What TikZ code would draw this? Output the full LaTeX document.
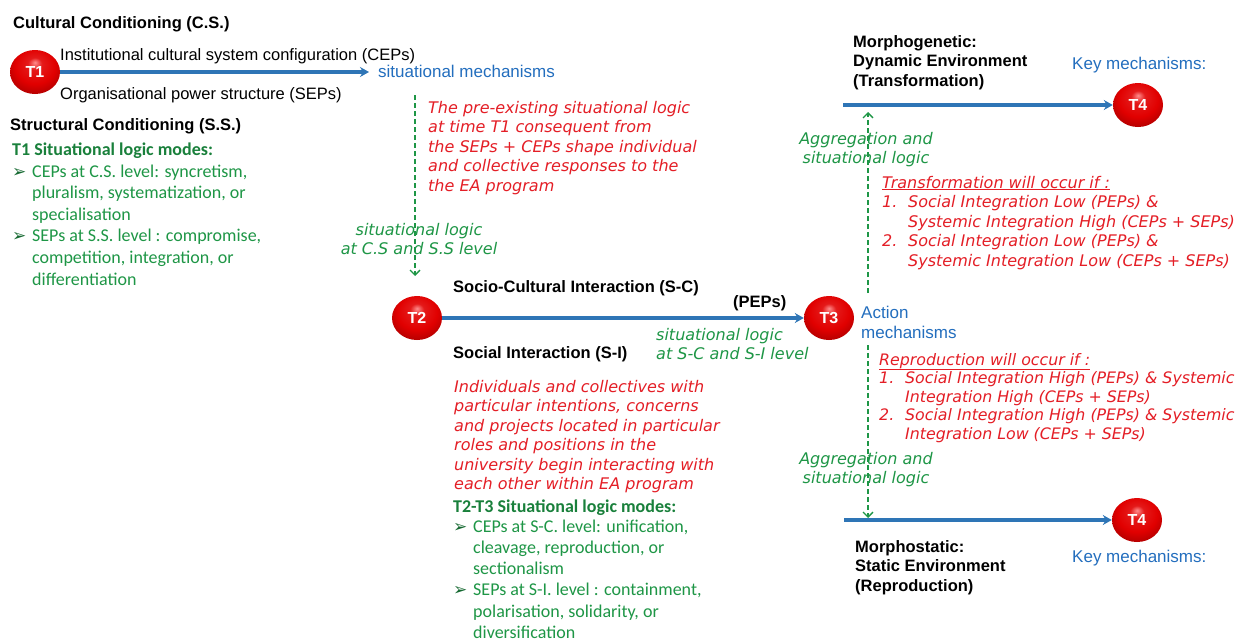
\documentclass[tikz,border=0pt]{standalone}
\usepackage{fontspec}
\setmainfont{Liberation Sans}
\newfontfamily\calib{Carlito}
\newfontfamily\hand{DejaVu Sans}
\newfontfamily\dejavu{DejaVu Sans}
\usetikzlibrary{arrows.meta,shapes.geometric}
\definecolor{arrowblue}{RGB}{46,117,182}
\definecolor{txtblue}{RGB}{35,110,190}
\definecolor{dgreen}{RGB}{30,150,70}
\definecolor{hred}{RGB}{228,30,38}
\definecolor{bred}{RGB}{225,0,0}
\pgfdeclareradialshading{redball}{\pgfpoint{0bp}{11bp}}{%
  color(0bp)=(red!45!white); color(7bp)=(bred!90!white); color(20bp)=(bred);
  color(30bp)=(bred!80!black); color(38bp)=(bred!55!black); color(50bp)=(bred!45!black)}
\newcommand{\mlines}[1]{\begin{tabular}[t]{@{}l@{}}#1\end{tabular}}
\newcommand{\mlinesc}[1]{\begin{tabular}[t]{@{}c@{}}#1\end{tabular}}
\newcommand{\bul}{\makebox[20pt][l]{\color{dgreen!70!black}\dejavu\fontsize{17}{16}\selectfont ➢}}
\newcommand{\ind}{\hspace*{20pt}}
\newcommand{\num}[1]{\makebox[26pt][l]{#1}}
\newcommand{\nind}{\hspace*{26pt}}
\tikzset{
  lbl/.style={anchor=base west, inner sep=0pt, font=\fontsize{16.5}{20}\selectfont},
  blbl/.style={anchor=base west, inner sep=0pt, font=\fontsize{16.5}{19.5}\selectfont\bfseries},
  bluetxt/.style={anchor=base west, inner sep=0pt, text=txtblue, font=\fontsize{17}{20}\selectfont},
  calgreen/.style={anchor=base west, inner sep=0pt, text=dgreen, font=\calib\fontsize{18}{21.6}\selectfont},
  calhead/.style={anchor=base west, inner sep=0pt, text=dgreen!85!black, font=\calib\fontsize{18}{21.6}\selectfont\bfseries},
  handred/.style={anchor=base west, inner sep=0pt, text=hred, font=\hand\itshape\fontsize{16}{19.5}\selectfont},
  handgreen/.style={anchor=base, inner sep=0pt, text=dgreen, font=\hand\itshape\fontsize{16}{19.5}\selectfont},
  ballnode/.style={ellipse, minimum width=50pt, minimum height=44pt, inner sep=0pt,
    shading=redball, text=white, font=\fontsize{16}{16}\selectfont\bfseries},
  flow/.style={draw=arrowblue, line width=3.4pt, -{Stealth[length=9pt,width=10pt,inset=3pt]}},
  agg/.style={draw=dgreen, line width=1.3pt, dash pattern=on 5pt off 3pt, -{Straight Barb[length=5pt,width=10pt]}}
}
\begin{document}
\begin{tikzpicture}[x=1pt,y=-1pt]
\fill[white] (0,0) rectangle (1244,643);
\useasboundingbox (0,0) rectangle (1244,643);

% ---------- T1 region ----------
\node[blbl] (cc) at (13,28) {Cultural Conditioning (C.S.)};
\node[ballnode] (T1) at (35,72) {T1};
\node[lbl] (icsc) at (60,60) {Institutional cultural system configuration (CEPs)};
\node[lbl] (ops) at (60,99) {Organisational power structure (SEPs)};
\node[bluetxt] (sitmech) at (378,77) {situational mechanisms};
\draw[flow, shorten >=9pt] (T1) -- (T1 -| sitmech.west);
\node[blbl] (sc) at (10,130) {Structural Conditioning (S.S.)};
\node[calhead] (t1h) at (12,155) {T1 Situational logic modes:};
\node[calgreen] (t1l) at (12,177) {\mlines{\bul CEPs at C.S. level: syncretism,\\
\ind pluralism, systematization, or\\
\ind specialisation\\
\bul SEPs at S.S. level : compromise,\\
\ind competition, integration, or\\
\ind differentiation}};

% ---------- T1 -> T2 dashed ----------
\coordinate (d1s) at (415,95);
\coordinate (d1e) at (415,276);
\draw[agg] (d1s) -- (d1e);
\node[handred] (pre) at (428,113) {\mlines{The pre-existing situational logic\\
at time T1 consequent from\\
the SEPs + CEPs shape individual\\
and collective responses to the\\
the EA program}};
\node[handgreen] (slcs) at (419,235) {\mlinesc{situational logic\\ at C.S and S.S level}};

% ---------- T2 -> T3 ----------
\node[ballnode] (T2) at (417,318) {T2};
\node[ballnode] (T3) at (829,318) {T3};
\draw[flow] (T2) -- (T3);
\node[blbl] (sci) at (453,292) {Socio-Cultural Interaction (S-C)};
\node[blbl] (peps) at (733,307) {(PEPs)};
\node[blbl] (si) at (453,358) {Social Interaction (S-I)};
\node[handred, text=dgreen] (slsc) at (656,340) {\mlines{situational logic\\ at S-C and S-I level}};
\node[handred] (indiv) at (454,392) {\mlines{Individuals and collectives with\\
particular intentions, concerns\\
and projects located in particular\\
roles and positions in the\\
university begin interacting with\\
each other within EA program}};
\node[calhead] (t2h) at (453,512) {T2-T3 Situational logic modes:};
\node[calgreen, font=\calib\fontsize{18}{21.3}\selectfont] (t2l) at (453,532) {\mlines{\bul CEPs at S-C. level: unification,\\
\ind cleavage, reproduction, or\\
\ind sectionalism\\
\bul SEPs at S-I. level : containment,\\
\ind polarisation, solidarity, or\\
\ind diversification}};
\node[bluetxt] (act) at (861,318) {\mlines{Action\\ mechanisms}};

% ---------- Morphogenetic (top) ----------
\node[blbl] (mg) at (853,47) {\mlines{Morphogenetic:\\ Dynamic Environment\\ (Transformation)}};
\node[bluetxt] (km1) at (1072,69) {Key mechanisms:};
\node[ballnode] (T4a) at (1138,105) {T4};
\coordinate (mgs) at (843,105);
\draw[flow] (mgs) -- (T4a);
\coordinate (d2s) at (868,293);
\coordinate (d2e) at (868,112);
\draw[agg] (d2s) -- (d2e);
\node[handgreen] (agg1) at (866,144) {\mlinesc{Aggregation and\\ situational logic}};
\node[handred] (trans) at (882,188) {\mlines{\underline{Transformation will occur if :}\\
\num{1.}Social Integration Low (PEPs) \&\\
\nind Systemic Integration High (CEPs + SEPs)\\
\num{2.}Social Integration Low (PEPs) \&\\
\nind Systemic Integration Low (CEPs + SEPs)}};

% ---------- Morphostatic (bottom) ----------
\node[handred, font=\hand\itshape\fontsize{15.8}{18.6}\selectfont] (repr) at (879,365) {\mlines{\underline{Reproduction will occur if :}\\
\num{1.}Social Integration High (PEPs) \& Systemic\\
\nind Integration High (CEPs + SEPs)\\
\num{2.}Social Integration High (PEPs) \& Systemic\\
\nind Integration Low (CEPs + SEPs)}};
\coordinate (d3s) at (868,345);
\coordinate (d3e) at (868,518);
\draw[agg] (d3s) -- (d3e);
\node[handgreen] (agg2) at (866,464) {\mlinesc{Aggregation and\\ situational logic}};
\node[ballnode] (T4b) at (1137,520) {T4};
\coordinate (mss) at (844,520);
\draw[flow] (mss) -- (T4b);
\node[blbl] (ms) at (855,552) {\mlines{Morphostatic:\\ Static Environment\\ (Reproduction)}};
\node[bluetxt] (km2) at (1072,562) {Key mechanisms:};
\end{tikzpicture}
\end{document}
